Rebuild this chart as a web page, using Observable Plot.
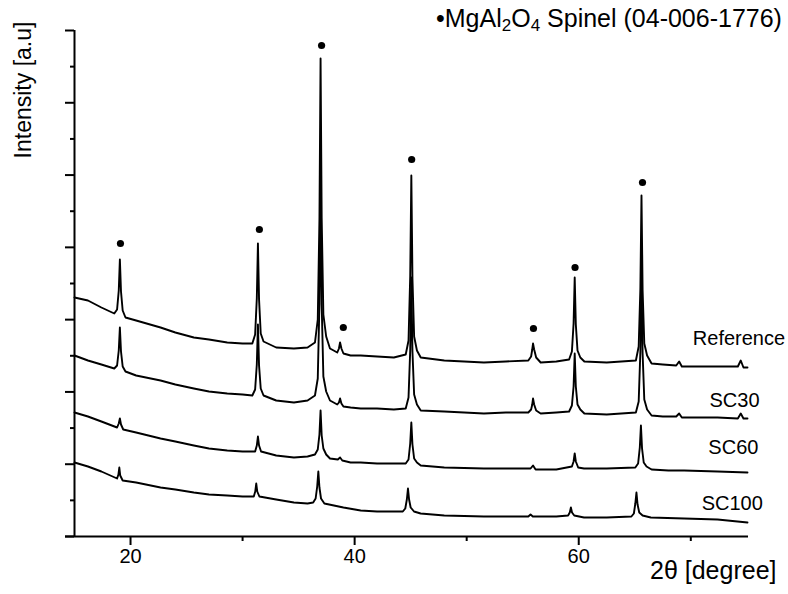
<!DOCTYPE html>
<html><head><meta charset="utf-8">
<script src="https://cdn.jsdelivr.net/npm/d3@7"></script>
<script src="https://cdn.jsdelivr.net/npm/@observablehq/plot@0.6"></script>
<style>
body{margin:0;background:#fff;}
#wrap{position:relative;width:788px;height:594px;font-family:"Liberation Sans",Arial,sans-serif;}
#legend{position:absolute;left:436px;top:4px;font-size:25px;color:#000;white-space:nowrap;}
#legend sub{font-size:17px;vertical-align:-4px;line-height:0;}
#ylabel{position:absolute;left:23px;top:90px;transform:translate(-50%,-50%) rotate(-90deg);font-size:23px;color:#000;white-space:nowrap;}
</style></head><body><div id="wrap"><div id="legend">•MgAl<sub>2</sub>O<sub>4</sub> Spinel (04-006-1776)</div><div id="ylabel">Intensity [a.u]</div></div>
<script>
// 2θ (degree), intensity (a.u.)
const reference = [[15.0,239],[16.2,236],[17.4,229],[18.55,223],[18.8,227],[18.95,246],[19.05,277],[19.15,245],[19.3,226],[19.55,219],[20.5,216],[22.68,209],[24.0,204],[25.65,199],[27.0,197],[28.63,194],[30.0,193],[30.87,193],[31.12,202],[31.27,238],[31.37,293],[31.47,237],[31.62,203],[31.87,195],[33.0,189],[34.58,188],[35.8,189],[36.46,194],[36.71,217],[36.86,318],[36.96,478],[37.06,318],[37.21,222],[37.46,200],[37.8,188],[38.45,184],[38.6,188],[38.7,194],[38.82,188],[39.0,183],[39.64,181],[40.54,181],[42.0,180],[43.5,179],[44.56,182],[44.81,196],[44.96,260],[45.06,361],[45.16,258],[45.31,200],[45.56,186],[45.9,179],[48.0,176],[51.54,174],[53.5,175],[55.5,176],[55.75,180],[55.85,187],[55.92,193],[56.02,187],[56.2,179],[56.6,174],[58.0,175],[59.14,177],[59.39,185],[59.54,213],[59.64,259],[59.74,212],[59.89,186],[60.14,179],[60.5,175],[62.5,174],[65.1,176],[65.35,190],[65.5,248],[65.6,341],[65.7,246],[65.85,193],[66.1,181],[66.5,173],[67.5,172],[68.7,171],[68.96,175],[69.2,170],[71.0,170],[72.39,170],[74.2,170],[74.46,176],[74.7,169],[75.06,169]];
const sc30 = [[15.0,181],[16.2,176],[17.4,172],[18.55,168],[18.8,171],[18.95,186],[19.05,209],[19.15,185],[19.3,170],[19.55,165],[20.5,161],[22.68,156],[24.0,152],[25.65,148],[27.0,145],[28.63,143],[30.0,142],[30.87,141],[31.12,147],[31.27,172],[31.37,212],[31.47,171],[31.62,148],[31.87,141],[33.0,136],[34.58,134],[35.8,136],[36.46,141],[36.71,158],[36.86,233],[36.96,351],[37.06,232],[37.21,160],[37.46,145],[37.8,136],[38.45,132],[38.6,134],[38.7,138],[38.82,133],[39.0,130],[39.64,129],[40.54,128],[42.0,128],[43.5,127],[44.56,128],[44.81,139],[44.96,186],[45.06,259],[45.16,185],[45.31,142],[45.56,132],[45.9,126],[48.0,125],[51.54,123],[53.5,124],[55.5,124],[55.75,127],[55.85,132],[55.92,138],[56.02,132],[56.2,126],[56.6,123],[58.0,124],[59.14,125],[59.39,131],[59.54,150],[59.64,183],[59.74,150],[59.89,132],[60.14,127],[60.5,123],[62.5,122],[65.1,124],[65.35,135],[65.5,185],[65.6,263],[65.7,183],[65.85,137],[66.1,127],[66.5,121],[67.5,120],[68.7,120],[68.96,123],[69.2,119],[71.0,119],[72.39,119],[74.2,118],[74.46,123],[74.7,118],[75.06,118]];
const sc60 = [[15.0,124],[16.2,120],[17.4,115],[18.8,109],[18.95,113],[19.05,118],[19.15,112],[19.35,107],[20.5,104],[22.68,98],[24.0,95],[25.65,91],[27.0,88],[28.63,86],[30.0,85],[31.12,85],[31.27,91],[31.37,100],[31.47,91],[31.65,85],[33.0,81],[34.58,79],[35.8,80],[36.46,82],[36.71,87],[36.86,102],[36.96,126],[37.06,101],[37.21,88],[37.46,82],[37.8,78],[38.5,77],[38.7,79],[38.9,76],[39.64,74],[40.54,74],[42.0,73],[43.5,73],[44.56,73],[44.81,77],[44.96,93],[45.06,114],[45.16,92],[45.31,78],[45.56,74],[45.9,71],[48.0,69],[51.54,68],[53.5,68],[55.7,68],[55.92,71],[56.15,67],[58.0,67],[59.39,70],[59.54,75],[59.64,83],[59.74,75],[59.95,69],[60.47,68],[62.5,68],[65.05,69],[65.3,73],[65.45,89],[65.55,111],[65.65,88],[65.8,74],[66.05,70],[66.5,67],[68.0,66],[69.4,66],[72.39,65],[75.06,64]];
const sc100 = [[15.0,74],[16.2,70],[17.4,65],[18.8,58],[18.92,62],[19.0,69],[19.08,61],[19.3,56],[20.5,54],[22.68,49],[24.0,47],[25.65,44],[27.0,42],[28.63,41],[30.0,40],[31.0,40],[31.13,45],[31.22,53],[31.31,45],[31.5,40],[32.0,39],[33.0,37],[34.58,34],[35.8,33],[36.3,34],[36.52,38],[36.66,50],[36.76,65],[36.86,49],[37.0,38],[37.3,33],[39.0,29],[40.54,26],[42.0,25],[44.3,25],[44.52,28],[44.66,37],[44.76,48],[44.86,37],[45.0,29],[45.3,25],[45.89,23],[48.0,21],[51.54,20],[53.5,20],[55.5,20],[55.7,22],[55.9,20],[58.0,20],[59.05,21],[59.2,24],[59.3,29],[59.4,24],[59.6,21],[60.47,19],[62.5,19],[64.7,20],[64.92,23],[65.05,33],[65.15,44],[65.25,32],[65.4,24],[65.7,21],[66.43,19],[69.4,18],[72.39,17],[75.06,14]];

const sampleNames = ["Reference", "SC30", "SC60", "SC100"];
const patterns = [reference, sc30, sc60, sc100];
const labelTheta = [74.3, 73.9, 73.8, 73.7];
const labelIntensity = [198, 136, 89, 33];

// spinel reflection markers
const markTheta = [19.1, 31.5, 37.05, 38.99, 45.09, 55.96, 59.67, 65.69];
const markIntensity = [293, 307, 491, 209, 377, 208, 269, 354];

const xMajorTicks = [20, 40, 60];
const xMinorTicks = [30, 50, 70];
const yTop = 506;
const yMajorTicks = d3.range(0, 8).map(i => i * yTop / 7);
const yMinorTicks = d3.range(0, 7).map(i => (i + 0.5) * yTop / 7);

const rows = patterns.flatMap((p, k) => p.map(([t, v]) => ({sample: sampleNames[k], t, v})));
const marks = markTheta.map((t, i) => ({t, v: markIntensity[i]}));
const labels = sampleNames.map((s, i) => ({s, t: labelTheta[i], v: labelIntensity[i]}));

const chart = Plot.plot({
  width: 788, height: 594,
  marginLeft: 74, marginRight: 40, marginTop: 30, marginBottom: 58,
  style: {fontFamily: "Liberation Sans, Arial, sans-serif", color: "#000", background: "#fff", overflow: "visible"},
  x: {domain: [15, 75.15]},
  y: {domain: [0, yTop]},
  marks: [
    Plot.axisX({ticks: xMajorTicks, tickSize: 9, tickPadding: 3, fontSize: 20, strokeWidth: 2, label: null}),
    Plot.axisX({ticks: xMinorTicks, tickSize: 5, tickFormat: () => "", strokeWidth: 2, label: null}),
    Plot.axisY({ticks: yMajorTicks, tickSize: 9, tickFormat: () => "", strokeWidth: 2, label: null}),
    Plot.axisY({ticks: yMinorTicks, tickSize: 4, tickFormat: () => "", strokeWidth: 2, label: null}),
    Plot.ruleY([0], {strokeWidth: 2, insetLeft: -9}),
    Plot.ruleX([15], {y1: 0, y2: yTop, strokeWidth: 2}),
    Plot.lineY(rows, {x: "t", y: "v", z: "sample", stroke: "#000", strokeWidth: 1.9}),
    Plot.dot(marks, {x: "t", y: "v", r: 3.6, fill: "#000"}),
    Plot.text(labels, {x: "t", y: "v", text: "s", fontSize: 20, textAnchor: "middle"}),
    Plot.text(["2θ [degree]"], {frameAnchor: "bottom-right", dx: 28, dy: 42, textAnchor: "end", fontSize: 25})
  ]
});
document.getElementById("wrap").appendChild(chart);
</script></body></html>
